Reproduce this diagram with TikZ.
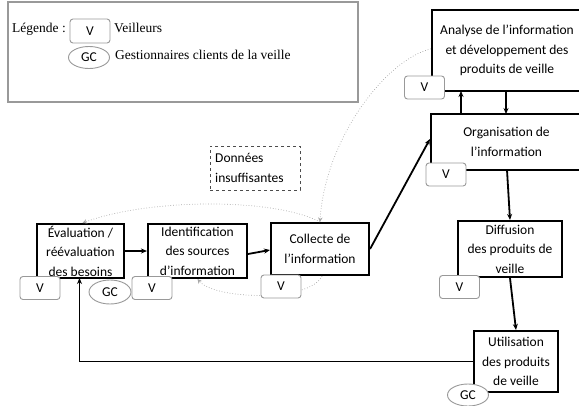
\documentclass[tikz,border=0pt]{standalone}
\usepackage{fontspec}
\setmainfont{Liberation Serif}
\newfontfamily\boxfont{Carlito}
\usetikzlibrary{arrows.meta,shapes.geometric,calc}
\tikzset{
  proc/.style={draw=black, line width=2.1pt, fill=white, inner sep=0pt, align=center,
    font=\boxfont\fontsize{13.5}{19.5}\selectfont},
  vbox/.style={draw=gray!80, line width=0.9pt, rounded corners=3pt, fill=white,
    minimum width=40pt, minimum height=23pt, inner sep=0pt, font=\boxfont\fontsize{13.5}{14}\selectfont},
  gcbox/.style={ellipse, draw=gray!80, line width=0.9pt, fill=white,
    minimum width=41pt, minimum height=22pt, inner sep=0pt, font=\boxfont\fontsize{13.5}{14}\selectfont},
  flow/.style={line width=1.8pt, -{Stealth[length=6pt,width=5pt]}},
  fb/.style={gray!70, line width=0.7pt, dotted, -{Stealth[length=4.5pt,width=4.5pt]}},
  legtxt/.style={anchor=west, inner sep=0pt, font=\fontsize{13.5}{15}\selectfont},
}
\begin{document}
\begin{tikzpicture}[x=1pt,y=-1pt]
\useasboundingbox (0,0) rectangle (579,405);
\clip (0,0) rectangle (579,405);
% legend
\node[draw=gray!80, line width=1.2pt, minimum width=350pt, minimum height=100pt, inner sep=0pt] (legend) at (183,52) {};
\node[legtxt] (legl) at (12,29) {Légende :};
\node[vbox, minimum height=24pt] (legv) at (90,31) {V};
\node[legtxt] (legvt) at (114,28) {Veilleurs};
\node[gcbox] (leggc) at (89,57.5) {GC};
\node[legtxt] (leggct) at (115,55) {Gestionnaires clients de la veille};

% dashed note
\node[draw=black!70, dashed, line width=0.7pt, minimum width=90pt, minimum height=44pt, inner sep=0pt] (note) at (255,168) {};
\node[anchor=west, align=left, inner sep=0pt, font=\boxfont\fontsize{13.5}{19.5}\selectfont] (notet) at (215,168) {Données\\insuffisantes};

% process boxes
\node[proc, minimum width=150pt, minimum height=81pt] (analyse) at (507,50.5) {Analyse de l’information\\et développement des\\produits de veille};
\node[proc, minimum width=151pt, minimum height=56pt] (orga) at (506.5,142) {Organisation de\\l’information};
\node[proc, minimum width=104pt, minimum height=56pt] (diff) at (510,249) {Diffusion\\des produits de\\veille};
\node[proc, minimum width=84pt, minimum height=61pt] (util) at (516,361.5) {Utilisation\\des produits\\de veille};
\node[proc, minimum width=98pt, minimum height=52pt] (coll) at (320,249) {Collecte de\\l’information};
\node[proc, minimum width=99pt, minimum height=54pt] (ident) at (197.5,251) {Identification\\des sources\\d’information};
\node[proc, minimum width=87pt, minimum height=54pt] (eval) at (80.5,251) {Évaluation /\\réévaluation\\des besoins};

% feedback dotted curves
\coordinate (c1s) at ($(analyse.north west)!0.48!(analyse.south west)$);
\draw[fb] (c1s) .. controls (385,60) and (325,140) .. (coll.north);
\draw[fb] (coll.north) .. controls (275,198) and (150,198) .. ([xshift=2pt]eval.north);
\draw[fb] ([xshift=2pt]coll.south) .. controls (310,302) and (215,300) .. (ident.south);

% actor boxes
\node[vbox] (va) at (424.5,87.5) {V};
\node[vbox] (vo) at (446,174.5) {V};
\node[vbox] (vd) at (459.5,287) {V};
\node[vbox] (vc) at (281,286.5) {V};
\node[vbox] (vi) at (152,288) {V};
\node[vbox] (ve) at (40,288) {V};
\node[gcbox, minimum width=42pt, minimum height=24pt] (gce) at (110,292) {GC};
\node[gcbox] (gcu) at (468,395) {GC};

% flow arrows
\draw[flow] (eval.east) -- (ident.west);
\draw[flow] ([yshift=-3pt]ident.east) -- ([yshift=-1pt]coll.west);
\draw[flow] (coll.east) -- ([yshift=3pt]orga.west);
\draw[flow] (461,114) -- (461,91);
\draw[flow] (506,91) -- (506,114);
\draw[flow] (507,170) -- (diff.north);
\draw[flow] (diff.south) -- (util.north);
\draw[flow] (util.west) -| (79.5,278);
\end{tikzpicture}
\end{document}
